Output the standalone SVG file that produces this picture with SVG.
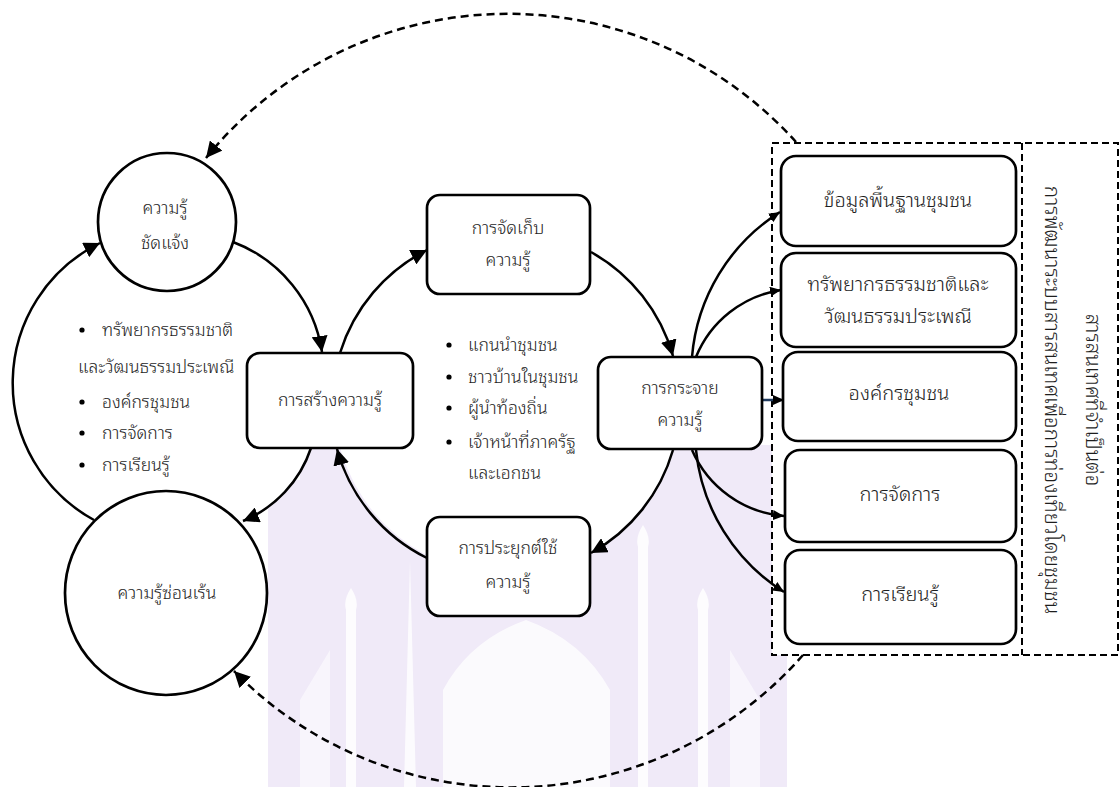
<svg xmlns="http://www.w3.org/2000/svg" width="1120" height="787" viewBox="0 0 1120 787">
<style>
  text { font-family: "Noto Sans Thai Looped", "Noto Sans", "DejaVu Sans", sans-serif; fill: #1e1e1e; font-weight: 300; }
  .t { font-size: 17.5px; text-anchor: middle; }
  .tl { font-size: 17.5px; text-anchor: start; }
  .tr { font-size: 20px; text-anchor: middle; }
  .tv { font-size: 20.5px; text-anchor: middle; }
  .node { fill: #ffffff; stroke: #000000; stroke-width: 2.7; }
  .conn { fill: none; stroke: #000000; stroke-width: 2.5; }
  .dash { fill: none; stroke: #000000; stroke-width: 2.5; stroke-dasharray: 8 5; }
  .frame { fill: #ffffff; stroke: #000000; stroke-width: 2; stroke-dasharray: 7 4; }
  .bullet { fill: #000000; }
  .wm { fill: #ffffff; }
</style>
<defs>
  <marker id="ah" markerUnits="userSpaceOnUse" markerWidth="18" markerHeight="16" refX="16" refY="8" orient="auto">
    <path d="M0,0 L16,8 L0,16 Z" fill="#000000"/>
  </marker>
  <marker id="ahs" markerUnits="userSpaceOnUse" markerWidth="12" markerHeight="10" refX="11" refY="5" orient="auto">
    <path d="M0,0 L11,5 L0,10 Z" fill="#000000"/>
  </marker>
</defs>
<rect x="0" y="0" width="1120" height="787" fill="#ffffff"/>

<g id="watermark">
  <path d="M268,480 L300,480 L300,445 L787,445 L787,787 L268,787 Z" fill="#f0eaf8"/>
  <path class="wm" d="M351,588 Q343,600 346,610 L346,787 L356,787 L356,610 Q359,600 351,588 Z" opacity="0.85"/>
  <path class="wm" d="M703,588 Q695,600 698,610 L698,787 L708,787 L708,610 Q711,600 703,588 Z" opacity="0.85"/>
  <path class="wm" d="M643,525 Q635,537 638,547 L638,787 L648,787 L648,547 Q651,537 643,525 Z" opacity="0.85"/>
  <path class="wm" d="M410,560 L404,787 L416,787 Z" opacity="0.8"/>
  <path class="wm" d="M443,787 L443,690 Q470,640 526,620 Q582,640 610,690 L610,787 Z" opacity="0.75"/>
  <path class="wm" d="M300,700 L330,650 L330,787 L300,787 Z" opacity="0.5"/>
  <path class="wm" d="M760,700 L730,650 L730,787 L760,787 Z" opacity="0.5"/>
</g>

<g id="cycle-fill">
  <circle cx="507" cy="402" r="173" fill="#ffffff"/>
  <path d="M233,242 A140,140 0 0 1 322,352 L311,448 A120,120 0 0 1 244,520 L94,520 A156,156 0 0 1 100,243 Z" fill="#ffffff"/>
</g>

<g id="frame">
  <rect class="frame" x="772" y="143" width="346" height="512"/>
  <line x1="1022" y1="143" x2="1022" y2="655" stroke="#000000" stroke-width="2" stroke-dasharray="7 4"/>
</g>

<g id="connectors">
  <path class="dash" d="M796,142 A388,388 0 0 0 206,158" marker-end="url(#ah)"/>
  <path class="dash" d="M803,655 A388,388 0 0 1 234,671" marker-end="url(#ah)"/>
  <path class="conn" d="M233,242 A140,140 0 0 1 322,352" marker-end="url(#ah)"/>
  <path class="conn" d="M311,448 A120,120 0 0 1 243,521" marker-end="url(#ah)"/>
  <path class="conn" d="M94,520 A156,156 0 0 1 100,243" marker-end="url(#ah)"/>
  <path class="conn" d="M340,353 A173,173 0 0 1 427,250" marker-end="url(#ah)"/>
  <path class="conn" d="M591,252 A173,173 0 0 1 673,356" marker-end="url(#ah)"/>
  <path class="conn" d="M673,450 A173,173 0 0 1 591,553" marker-end="url(#ah)"/>
  <path class="conn" d="M427,558 A173,173 0 0 1 337,449" marker-end="url(#ah)"/>
  <path class="conn" d="M692,357 A190,190 0 0 1 780,212" marker-end="url(#ahs)"/>
  <path class="conn" d="M696,357 A110,110 0 0 1 781,290" marker-end="url(#ahs)"/>
  <line x1="762" y1="400" x2="784" y2="400" stroke="#1f3a5f" stroke-width="2.5" marker-end="url(#ahs)"/>
  <path class="conn" d="M692,450 A110,110 0 0 0 784,516" marker-end="url(#ahs)"/>
  <path class="conn" d="M696,450 A190,190 0 0 0 784,592" marker-end="url(#ahs)"/>
</g>

<g id="n-explicit">
  <circle class="node" cx="167" cy="222" r="69"/>
  <text class="t" x="165" y="214">ความรู้</text>
  <text class="t" x="165" y="249">ชัดแจ้ง</text>
</g>
<g id="n-left-list">
  <circle class="bullet" cx="82" cy="330" r="2.6"/>
  <text class="tl" x="102" y="336">ทรัพยากรธรรมชาติ</text>
  <text class="tl" x="78" y="373">และวัฒนธรรมประเพณี</text>
  <circle class="bullet" cx="82" cy="402" r="2.6"/>
  <text class="tl" x="102" y="408">องค์กรชุมชน</text>
  <circle class="bullet" cx="82" cy="433" r="2.6"/>
  <text class="tl" x="102" y="439">การจัดการ</text>
  <circle class="bullet" cx="82" cy="465" r="2.6"/>
  <text class="tl" x="102" y="471">การเรียนรู้</text>
</g>
<g id="n-create">
  <rect class="node" x="247" y="353" width="166" height="95" rx="13"/>
  <text class="t" x="330" y="406">การสร้างความรู้</text>
</g>
<g id="n-store">
  <rect class="node" x="427" y="195" width="163" height="99" rx="13"/>
  <text class="t" x="508" y="234">การจัดเก็บ</text>
  <text class="t" x="508" y="266">ความรู้</text>
</g>
<g id="n-center-list">
  <circle class="bullet" cx="449" cy="345" r="2.6"/>
  <text class="tl" x="468" y="351">แกนนำชุมชน</text>
  <circle class="bullet" cx="449" cy="377" r="2.6"/>
  <text class="tl" x="468" y="383">ชาวบ้านในชุมชน</text>
  <circle class="bullet" cx="449" cy="408" r="2.6"/>
  <text class="tl" x="468" y="414">ผู้นำท้องถิ่น</text>
  <circle class="bullet" cx="449" cy="442" r="2.6"/>
  <text class="tl" x="468" y="448">เจ้าหน้าที่ภาครัฐ</text>
  <text class="tl" x="468" y="479">และเอกชน</text>
</g>
<g id="n-distribute">
  <rect class="node" x="598" y="357" width="164" height="92" rx="13"/>
  <text class="t" x="680" y="394">การกระจาย</text>
  <text class="t" x="680" y="426">ความรู้</text>
</g>
<g id="n-apply">
  <rect class="node" x="427" y="517" width="163" height="99" rx="13"/>
  <text class="t" x="508" y="554">การประยุกต์ใช้</text>
  <text class="t" x="508" y="588">ความรู้</text>
</g>
<g id="n-tacit">
  <ellipse class="node" cx="166" cy="593" rx="101" ry="102"/>
  <text class="t" x="167" y="599">ความรู้ซ่อนเร้น</text>
</g>
<g id="n-r1">
  <rect class="node" x="781" y="156" width="235" height="90" rx="15"/>
  <text class="tr" x="898" y="207">ข้อมูลพื้นฐานชุมชน</text>
</g>
<g id="n-r2">
  <rect class="node" x="781" y="253" width="235" height="94" rx="15"/>
  <text class="tr" x="898" y="291">ทรัพยากรธรรมชาติและ</text>
  <text class="tr" x="898" y="323">วัฒนธรรมประเพณี</text>
</g>
<g id="n-r3">
  <rect class="node" x="783" y="352" width="233" height="89" rx="15"/>
  <text class="tr" x="899" y="400">องค์กรชุมชน</text>
</g>
<g id="n-r4">
  <rect class="node" x="785" y="450" width="231" height="92" rx="15"/>
  <text class="tr" x="900" y="501">การจัดการ</text>
</g>
<g id="n-r5">
  <rect class="node" x="785" y="550" width="231" height="94" rx="15"/>
  <text class="tr" x="900" y="601">การเรียนรู้</text>
</g>
<g id="n-vertical-label">
  <text class="tv" transform="translate(1093,400) rotate(90)" y="7">สารสนเทศที่จำเป็นต่อ</text>
  <text class="tv" transform="translate(1052,400) rotate(90)" y="7">การพัฒนาระบบสารสนเทศเพื่อการท่องเที่ยวโดยชุมชน</text>
</g>
</svg>
